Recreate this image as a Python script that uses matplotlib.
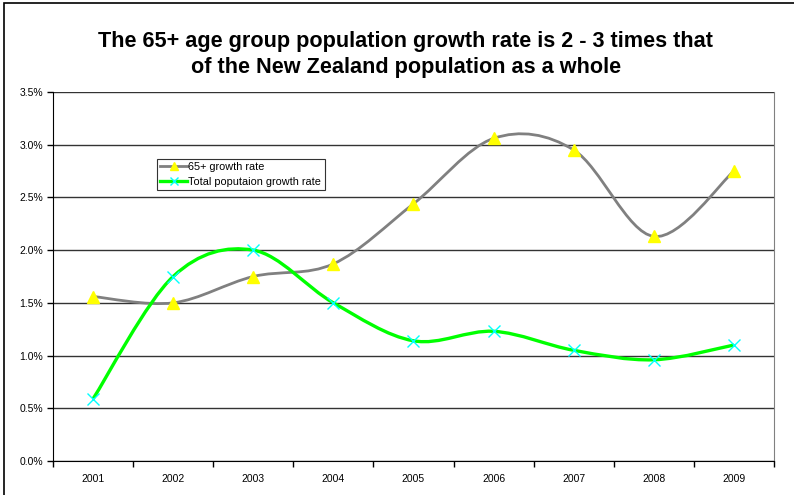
import matplotlib
matplotlib.use("Agg")
import matplotlib.pyplot as plt
import numpy as np
from matplotlib.path import Path
from matplotlib.patches import PathPatch, Rectangle
from matplotlib.lines import Line2D
from matplotlib.ticker import FuncFormatter, MultipleLocator

plt.rcParams['font.family'] = ['Liberation Sans', 'DejaVu Sans']

years = ['2001', '2002', '2003', '2004', '2005', '2006', '2007', '2008', '2009']
older_rate = [1.56, 1.50, 1.75, 1.87, 2.44, 3.06, 2.95, 2.13, 2.75]   # 65+ growth, %
total_rate = [0.59, 1.75, 2.00, 1.50, 1.14, 1.23, 1.05, 0.96, 1.10]   # whole population, %


def smooth_path(xs, ys):
    # excel-style smoothing: cubic bezier segments with catmull-rom control points
    pts = np.column_stack([xs, ys]).astype(float)
    n = len(pts)
    verts = [pts[0]]
    codes = [Path.MOVETO]
    for i in range(n - 1):
        p0 = pts[max(i - 1, 0)]
        p1 = pts[i]
        p2 = pts[i + 1]
        p3 = pts[min(i + 2, n - 1)]
        c1 = p1 + (p2 - p0) / 6.0
        c2 = p2 - (p3 - p1) / 6.0
        verts += [c1, c2, p2]
        codes += [Path.CURVE4] * 3
    return Path(verts, codes)


W, H = 794, 495
fig = plt.figure(figsize=(W / 100, H / 100), dpi=100)

# outer chart frame (runs off the right/bottom edge)
fig.patches.append(Rectangle((4 / W, -0.1), 1.2, 1 - 3 / H + 0.1, transform=fig.transFigure,
                             fill=False, edgecolor='black', lw=1.2))

ax = fig.add_axes([53 / W, 1 - 461 / H, (774 - 53) / W, (461 - 92) / H])
x = np.arange(len(years))

ax.add_patch(PathPatch(smooth_path(x, older_rate), fill=False, edgecolor='#808080', lw=2.0, zorder=3))
ax.add_patch(PathPatch(smooth_path(x, total_rate), fill=False, edgecolor='#00ff00', lw=2.4, zorder=3))
ax.plot(x, older_rate, ls='none', marker='^', ms=8, color='#ffff00', mec='#ffff00', zorder=4)
ax.plot(x, total_rate, ls='none', marker='x', ms=8, mew=1.0, color='#00ffff', zorder=4)

ax.set_xlim(-0.5, len(years) - 0.5)
ax.set_ylim(0, 3.5)
ax.yaxis.set_major_locator(MultipleLocator(0.5))
ax.yaxis.set_major_formatter(FuncFormatter(lambda v, p: '%.1f%%' % v))
ax.grid(axis='y', color='#333333', lw=1.0)
ax.set_axisbelow(True)

ax.set_xticks(x)
ax.set_xticklabels(years)
ax.set_xticks(np.arange(len(years) + 1) - 0.5, minor=True)
ax.tick_params(axis='x', which='major', length=0, pad=9, labelsize=7.5)
ax.tick_params(axis='x', which='minor', length=4, width=1, direction='out')
ax.tick_params(axis='y', length=4, width=1, direction='out', pad=3, labelsize=7.5)

ax.spines['top'].set_visible(False)
ax.spines['right'].set_color('#808080')
ax.spines['left'].set_color('black')
ax.spines['bottom'].set_color('black')

handles = [
    Line2D([], [], color='#808080', lw=2.0, marker='^', ms=6, mfc='#ffff00', mec='#ffff00'),
    Line2D([], [], color='#00ff00', lw=2.4, marker='x', ms=6, mew=1.0, mec='#00ffff'),
]
leg = ax.legend(handles, ['65+ growth rate', 'Total poputaion growth rate'],
                loc='upper left', bbox_to_anchor=((157 - 53) / (774 - 53), (461 - 159) / (461 - 92)),
                fontsize=7.8, frameon=True, fancybox=False, framealpha=1, edgecolor='#333333',
                handlelength=2.5, handletextpad=0.1, borderpad=0.3, labelspacing=0.45,
                borderaxespad=0)
leg.get_frame().set_linewidth(0.8)

fig.text(406 / W, 1 - 41 / H, 'The 65+ age group population growth rate is 2 - 3 times that',
         ha='center', va='center', fontsize=15.6, fontweight='bold')
fig.text(406 / W, 1 - 67 / H, 'of the New Zealand population as a whole',
         ha='center', va='center', fontsize=15.6, fontweight='bold')

fig.savefig('out.png', dpi=100)
